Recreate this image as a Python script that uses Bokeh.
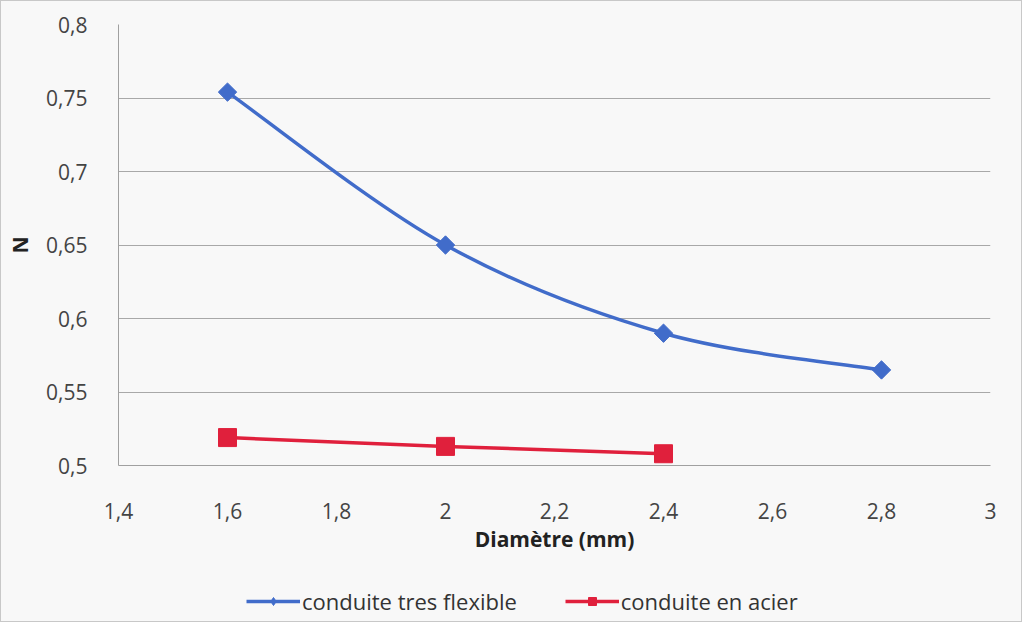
from bokeh.plotting import figure
from bokeh.models import Legend, LegendItem, FixedTicker, CustomJSTickFormatter, Range1d
from bokeh.layouts import column
from bokeh.embed import file_html
from bokeh.resources import INLINE

# Data
x_flex = [1.6, 2.0, 2.4, 2.8]
y_flex = [0.754, 0.650, 0.590, 0.565]
x_steel = [1.6, 2.0, 2.4]
y_steel = [0.519, 0.513, 0.508]
x_ticks = [1.4, 1.6, 1.8, 2.0, 2.2, 2.4, 2.6, 2.8, 3.0]
y_ticks = [0.5, 0.55, 0.6, 0.65, 0.7, 0.75, 0.8]
series_names = ["conduite tres flexible", "conduite en acier"]

BLUE = "#416cca"
RED = "#e0203c"
BG = "#f8f8f8"
FONT = "Open Sans"
FS = "21px"

p = figure(width=1020, height=580, output_backend="svg", toolbar_location=None,
           x_range=Range1d(1.4, 3.0), y_range=Range1d(0.5, 0.8),
           min_border_left=117, min_border_right=31, min_border_top=23,
           min_border_bottom=116)
p.background_fill_color = BG
p.border_fill_color = BG
p.outline_line_color = None

# Smooth (Excel-like) bezier segments for the flexible pipe
n = len(x_flex)
x0s, y0s, x1s, y1s, cx0, cy0, cx1, cy1 = [], [], [], [], [], [], [], []
for i in range(n - 1):
    im1 = max(i - 1, 0)
    ip2 = min(i + 2, n - 1)
    x0s.append(x_flex[i]); y0s.append(y_flex[i])
    x1s.append(x_flex[i + 1]); y1s.append(y_flex[i + 1])
    cx0.append(x_flex[i] + (x_flex[i + 1] - x_flex[im1]) / 6)
    cy0.append(y_flex[i] + (y_flex[i + 1] - y_flex[im1]) / 6)
    cx1.append(x_flex[i + 1] - (x_flex[ip2] - x_flex[i]) / 6)
    cy1.append(y_flex[i + 1] - (y_flex[ip2] - y_flex[i]) / 6)

p.bezier(x0=x0s, y0=y0s, x1=x1s, y1=y1s, cx0=cx0, cy0=cy0, cx1=cx1, cy1=cy1,
         line_color=BLUE, line_width=3.5)
p.scatter(x_flex, y_flex, marker="square", angle=0.785398, size=13,
          fill_color=BLUE, line_color=BLUE)
p.line(x_steel, y_steel, line_color=RED, line_width=3.5)
p.scatter(x_steel, y_steel, marker="square", size=18, fill_color=RED, line_color=RED)

# Axes
fmt = CustomJSTickFormatter(code="return (Math.round(tick*100)/100).toString().replace('.', ',');")
p.xaxis.ticker = FixedTicker(ticks=x_ticks)
p.yaxis.ticker = FixedTicker(ticks=y_ticks)
p.xaxis.formatter = fmt
p.yaxis.formatter = fmt
for ax in (p.xaxis[0], p.yaxis[0]):
    ax.axis_line_color = "#a0a0a0"
    ax.axis_line_width = 1
    ax.major_tick_line_color = None
    ax.minor_tick_line_color = None
    ax.major_label_text_font = FONT
    ax.major_label_text_font_size = FS
    ax.major_label_text_color = "#444444"
    ax.axis_label_text_font = FONT
    ax.axis_label_text_font_style = "bold"
    ax.axis_label_text_font_size = FS
    ax.axis_label_text_color = "#222222"
p.xaxis.major_label_standoff = 31
p.yaxis.major_label_standoff = 25
p.xaxis.axis_label = "Diamètre (mm)"
p.yaxis.axis_label = "N"
p.xaxis.axis_label_standoff = 3
p.yaxis.axis_label_standoff = 9

p.xgrid.grid_line_color = None
p.ygrid.grid_line_color = "#a8a8a8"
p.ygrid.grid_line_width = 1

# Legend strip below the chart
q = figure(width=1020, height=40, output_backend="svg", toolbar_location=None,
           x_range=Range1d(0, 1), y_range=Range1d(0, 1),
           min_border_left=0, min_border_right=0, min_border_top=0, min_border_bottom=0)
q.axis.visible = False
q.grid.visible = False
q.background_fill_color = BG
q.border_fill_color = BG
q.outline_line_color = None
bl = q.line(x_flex, y_flex, line_color=BLUE, line_width=3.5, visible=False)
bm = q.scatter(x_flex, y_flex, marker="diamond", size=13,
               fill_color=BLUE, line_color=BLUE, visible=False)
rl = q.line(x_steel, y_steel, line_color=RED, line_width=3.5, visible=False)
rm = q.scatter(x_steel, y_steel, marker="square", size=14, fill_color=RED, line_color=RED, visible=False)

legend = Legend(items=[LegendItem(label=series_names[0], renderers=[bl, bm]),
                       LegendItem(label=series_names[1], renderers=[rl, rm])],
                orientation="horizontal", location=(128, 5),
                glyph_width=54, glyph_height=20, label_standoff=2, spacing=48,
                padding=0, margin=0, border_line_color=None,
                background_fill_alpha=0,
                label_text_font=FONT, label_text_font_size="22px",
                label_text_color="#333333")
q.add_layout(legend, "center")

layout = column(p, q, spacing=0,
                styles={"border": "1px solid #c8c8c8", "background-color": BG})

open("out.html", "w").write(file_html(layout, INLINE))
